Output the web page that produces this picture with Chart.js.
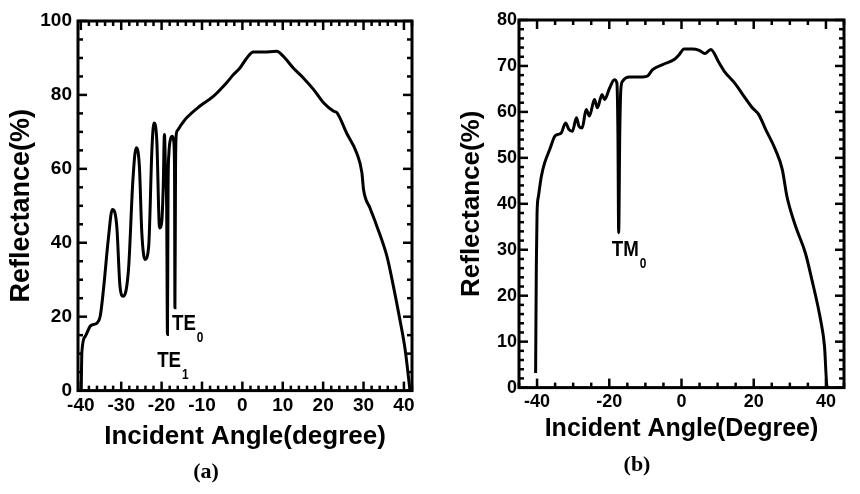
<!DOCTYPE html>
<html><head><meta charset="utf-8">
<script src="https://cdn.jsdelivr.net/npm/chart.js@4.4.1/dist/chart.umd.min.js"></script>
<style>
html,body{margin:0;padding:0;background:#fff;overflow:hidden;width:860px;height:494px;}
canvas{position:absolute;top:0;}
</style></head><body>
<canvas id="ca" width="426" height="494" style="left:0;width:426px;height:494px"></canvas>
<canvas id="cb" width="444" height="494" style="left:430px;width:444px;height:494px"></canvas>
<script>
// ---- data (a): TE polarisation ----
const angleA = [-39.9,-39.75,-38.9,-37.7,-36.8,-36.0,-35.2,-34.4,-33.2,-32.2,-31.1,-30.3,-29.5,-28.2,-27.1,-26.3,-25.5,-24.9,-24.1,-23.2,-22.4,-21.9,-21.2,-20.5,-19.95,-19.6,-19.3,-19.0,-18.75,-18.55,-18.4,-18.2,-17.8,-17.3,-17.0,-16.8,-16.7,-16.55,-16.4,-16.0,-15.4,-13.8,-10.5,-7.2,-3.9,-2.2,-0.6,1.1,2.7,5.2,8.5,10.1,12.6,15.1,17.6,20.1,22.6,23.4,25.8,28.3,29.6,30.0,31.6,33.3,35.8,37.4,39.0,40.3,41.5];
const reflA  = [0,10.3,14.7,17.4,17.9,18.3,20.1,27.3,40.9,49,44.5,28.2,25.5,32.7,57.1,65.7,60.7,42.7,35.5,39,65.2,72.4,67.9,44,45.8,55,69.3,58,50,15.2,55,64,68,68.8,67.5,60,22.4,60,69,70.5,71.5,73.8,77,79.6,83.3,85.5,87.3,90,91.6,91.6,91.8,90.5,87.3,84.6,81.5,77.9,75.6,75.2,69.7,64.3,58.9,54.4,49.4,44.5,36.3,28.2,19.2,11.1,0];
// ---- data (b): TM polarisation ----
const angleB = [-40.4,-40.2,-40.0,-39.6,-38.8,-37.9,-36.5,-35.1,-34.2,-33.3,-32.1,-31.2,-30.2,-29.1,-28.4,-27.5,-26.4,-25.5,-24.1,-23.3,-22.0,-21.3,-19.9,-18.6,-17.9,-17.6,-17.4,-17.1,-16.8,-16.3,-14.4,-10.7,-9.4,-8.0,-5.2,-2.0,-0.6,0.7,3.0,4.9,6.5,8.1,10.4,11.8,15.0,17.3,19.6,21.4,23.3,26.0,27.9,29.2,31.6,34.3,36.1,38.5,39.6,40.3,41.0];
const reflB  = [3.2,26.4,38,41.7,46,48.9,51.8,54.7,55.1,55.4,57.6,56.2,55.8,58.7,56.9,56.5,60.5,59.1,62.7,60.9,63.8,62.7,65.2,67,66.3,55,33.7,55,64.9,66.7,67.6,67.6,67.8,69.2,70.3,71.4,72.5,73.7,73.7,73.4,72.7,73.6,70.7,68.9,66,63.4,60.9,59.4,56.2,51.8,47.5,41.6,35.1,29.3,23.5,14.8,9,0.3,0];
// ---- ticks ----
const xTicksA = [-40,-30,-20,-10,0,10,20,30,40];
const yTicksA = [0,20,40,60,80,100];
const xTicksB = [-40,-20,0,20,40];
const yTicksB = [0,10,20,30,40,50,60,70,80];
// ---- mode labels (data coordinates) ----
const modeLabelsA = [{main:'TE',sub:'0',x:-17.4,y:18.1},{main:'TE',sub:'1',x:-21.1,y:8.0}];
const modeLabelsB = [{main:'TM',sub:'0',x:-19.3,y:30}];

const FONT = "'Liberation Sans', Arial, Helvetica, sans-serif";

const frameTicks = {
  id:'frameTicks',
  afterDatasetsDraw(chart, args, o){
    const {ctx, chartArea:a, scales:{x,y}} = chart;
    ctx.save();
    ctx.strokeStyle='#000';
    ctx.lineWidth=3;
    ctx.strokeRect(a.left,a.top,a.right-a.left,a.bottom-a.top);
    ctx.lineWidth=2.5;
    const isMajor=(s,v)=>s.ticks.some(t=>Math.abs(t.value-v)<1e-6);
    const seg=(x1,y1,x2,y2)=>{ctx.beginPath();ctx.moveTo(x1,y1);ctx.lineTo(x2,y2);ctx.stroke();};
    const i0=Math.ceil(x.min/o.minorX-1e-9), i1=Math.floor(x.max/o.minorX+1e-9);
    for(let i=i0;i<=i1;i++){
      const v=i*o.minorX, px=x.getPixelForValue(v), L=isMajor(x,v)?o.major:o.minor;
      seg(px,a.bottom,px,a.bottom-L); seg(px,a.top,px,a.top+L);
    }
    const j0=Math.ceil(y.min/o.minorY-1e-9), j1=Math.floor(y.max/o.minorY+1e-9);
    for(let j=j0;j<=j1;j++){
      const v=j*o.minorY, py=y.getPixelForValue(v), L=isMajor(y,v)?o.major:o.minor;
      seg(a.left,py,a.left+L,py); seg(a.right,py,a.right-L,py);
    }
    ctx.restore();
  }
};
const modeText = {
  id:'modeText',
  afterDatasetsDraw(chart, args, o){
    const {ctx, scales:{x,y}} = chart;
    (o.items||[]).forEach(it=>{
      const px=x.getPixelForValue(it.x), py=y.getPixelForValue(it.y);
      ctx.save();
      ctx.translate(px,py); ctx.scale(0.85,1);
      ctx.fillStyle='#000'; ctx.textAlign='left';
      ctx.font='bold 22px '+FONT; ctx.textBaseline='middle';
      ctx.fillText(it.main,0,0);
      const w=ctx.measureText(it.main).width;
      ctx.font='bold 14px '+FONT; ctx.textBaseline='top';
      ctx.fillText(it.sub,w+1,7);
      ctx.restore();
    });
  }
};

function makeChart(id, cfg){
  return new Chart(document.getElementById(id), {
    type:'line',
    data:{datasets:[{
      data: cfg.ang.map((v,i)=>({x:v,y:cfg.refl[i]})),
      borderColor:'#000', borderWidth:3, pointRadius:0, fill:false,
      cubicInterpolationMode:'monotone'
    }]},
    options:{
      responsive:false, animation:false, devicePixelRatio:1,
      layout:{padding:cfg.pad},
      plugins:{
        legend:{display:false}, tooltip:{enabled:false},
        title:{display:true, position:'bottom', text:cfg.caption, color:'#000',
          font:{family:"'Liberation Serif', 'Times New Roman', serif", weight:'bold', size:22, lineHeight:1.2},
          padding:{top:2,bottom:cfg.capPad}},
        frameTicks:{minorX:cfg.minorX, minorY:cfg.minorY, major:9, minor:5},
        modeText:{items:cfg.labels}
      },
      scales:{
        x:{type:'linear', min:cfg.xmin, max:cfg.xmax,
          afterBuildTicks:s=>{s.ticks=cfg.xt.map(v=>({value:v}));},
          afterFit:s=>{s.height=cfg.xh;},
          grid:{display:false, drawTicks:false}, border:{display:false},
          ticks:{color:'#000', autoSkip:false, maxRotation:0, padding:cfg.xtPad,
            font:{family:FONT, weight:'bold', size:cfg.xtSize}},
          title:{display:true, text:cfg.xtitle, color:'#000',
            font:{family:FONT, weight:'bold', size:cfg.xTitleSize, lineHeight:1.2},
            padding:{top:0,bottom:cfg.xTitlePad}}
        },
        y:{type:'linear', min:cfg.ymin, max:cfg.ymax,
          afterBuildTicks:s=>{s.ticks=cfg.yt.map(v=>({value:v}));},
          afterFit:s=>{s.width=cfg.yw;},
          grid:{display:false, drawTicks:false}, border:{display:false},
          ticks:{color:'#000', autoSkip:false, padding:cfg.ytPad,
            font:{family:FONT, weight:'bold', size:cfg.ytSize}},
          title:{display:true, text:'Reflectance(%)', color:'#000',
            font:{family:FONT, weight:'bold', size:cfg.yTitleSize, lineHeight:1.2},
            padding:{top:cfg.yTitlePad,bottom:0}}
        }
      }
    },
    plugins:[frameTicks, modeText]
  });
}

makeChart('ca',{ang:angleA, refl:reflA, xt:xTicksA, yt:yTicksA, labels:modeLabelsA,
  caption:'(a)', capPad:8, pad:{left:0,right:14,top:21,bottom:0},
  xmin:-40.7, xmax:42, ymin:0, ymax:100, minorX:2, minorY:5,
  xh:67, yw:78, xtPad:4, ytPad:6, xtSize:19, ytSize:19,
  xtitle:'Incident Angle(degree)', xTitleSize:26, xTitlePad:5, yTitleSize:27, yTitlePad:5});

makeChart('cb',{ang:angleB, refl:reflB, xt:xTicksB, yt:yTicksB, labels:modeLabelsB,
  caption:'(b)', capPad:15, pad:{left:0,right:30,top:20,bottom:0},
  xmin:-45, xmax:45, ymin:0, ymax:80, minorX:5, minorY:2,
  xh:63, yw:89, xtPad:4, ytPad:2, xtSize:18, ytSize:18,
  xtitle:'Incident Angle(Degree)', xTitleSize:25, xTitlePad:6, yTitleSize:26, yTitlePad:26});
</script>
</body></html>
